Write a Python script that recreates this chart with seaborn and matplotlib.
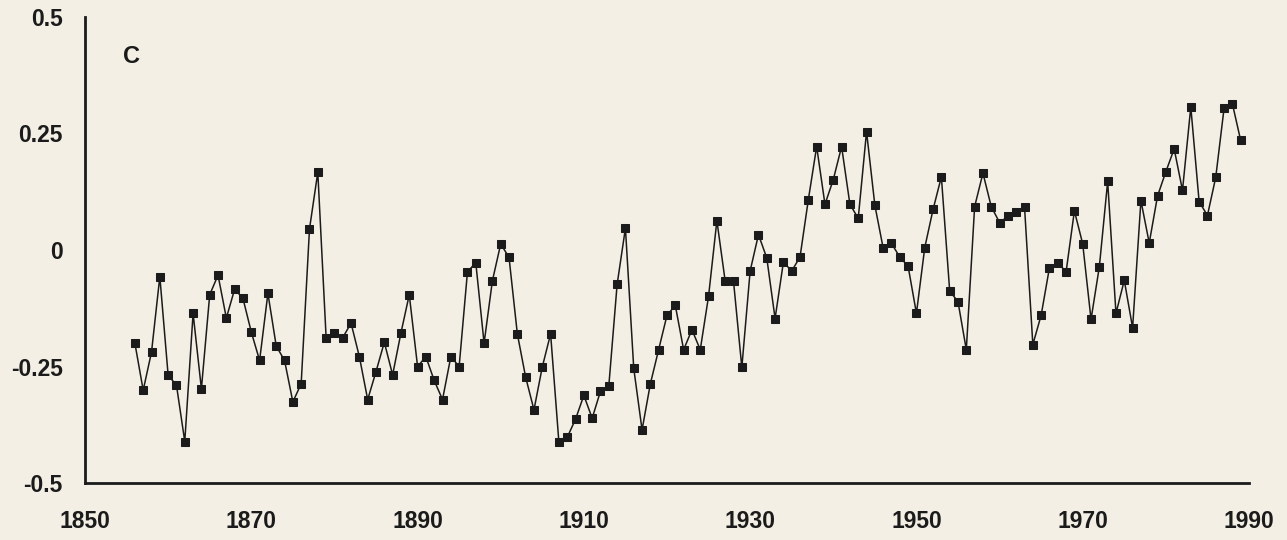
import numpy as np
import pandas as pd
import matplotlib
matplotlib.use("Agg")
import matplotlib.pyplot as plt
import seaborn as sns

# --- Data: global temperature anomaly (deg C) ---
FIRST_YEAR = 1856
LAST_YEAR = 1989
anomaly = [
    -0.200, -0.301, -0.219, -0.057, -0.269, -0.290, -0.411, -0.136, -0.298, -0.096,   # 1856-1865
    -0.054, -0.146, -0.084, -0.104, -0.176, -0.237, -0.093, -0.206, -0.237, -0.326,   # 1866-1875
    -0.287, 0.045, 0.167, -0.188, -0.178, -0.188, -0.157, -0.229, -0.321, -0.261,     # 1876-1885
    -0.198, -0.268, -0.178, -0.096, -0.250, -0.229, -0.280, -0.321, -0.229, -0.250,   # 1886-1895
    -0.047, -0.027, -0.200, -0.066, 0.013, -0.016, -0.180, -0.273, -0.343, -0.251,    # 1896-1905
    -0.180, -0.413, -0.402, -0.363, -0.312, -0.361, -0.303, -0.292, -0.074, 0.047,    # 1906-1915
    -0.254, -0.386, -0.287, -0.214, -0.140, -0.119, -0.214, -0.171, -0.214, -0.099,   # 1916-1925
    0.063, -0.067, -0.067, -0.252, -0.045, 0.033, -0.017, -0.147, -0.026, -0.045,     # 1926-1935
    -0.015, 0.108, 0.222, 0.098, 0.151, 0.222, 0.098, 0.068, 0.254, 0.096,            # 1936-1945
    0.004, 0.014, -0.015, -0.035, -0.136, 0.005, 0.087, 0.157, -0.088, -0.111,        # 1946-1955
    -0.214, 0.093, 0.165, 0.093, 0.059, 0.072, 0.082, 0.093, -0.203, -0.140,          # 1956-1965
    -0.038, -0.027, -0.047, 0.084, 0.013, -0.149, -0.036, 0.147, -0.136, -0.065,      # 1966-1975
    -0.167, 0.106, 0.015, 0.116, 0.168, 0.217, 0.128, 0.307, 0.104, 0.074,            # 1976-1985
    0.156, 0.304, 0.314, 0.235,                                                       # 1986-1989
]
years = list(range(FIRST_YEAR, LAST_YEAR + 1))

x_ticks = [1850, 1870, 1890, 1910, 1930, 1950, 1970, 1990]
y_ticks = [-0.5, -0.25, 0, 0.25, 0.5]
y_tick_labels = ["-0.5", "-0.25", "0", "0.25", "0.5"]
panel_label = "C"

df = pd.DataFrame({"year": years, "anomaly": anomaly})

# --- Style ---
PAPER = "#f3efe5"
INK = "#1b1b1b"
sns.set_theme(style="white")
plt.rcParams["font.family"] = ["Liberation Sans", "DejaVu Sans"]

W, H = 1287, 540
fig = plt.figure(figsize=(W / 100, H / 100), dpi=100, facecolor=PAPER)
ax = fig.add_axes([85 / W, 1 - 483 / H, (1249 - 85) / W, (483 - 17) / H])
ax.set_facecolor("none")

sns.lineplot(data=df, x="year", y="anomaly", ax=ax, color=INK, linewidth=1.1,
             marker="s", markersize=5.5, markeredgecolor=INK, markerfacecolor=INK)

ax.set_xlim(1850, 1990)
ax.set_ylim(-0.5, 0.5)
ax.set_xticks(x_ticks)
ax.set_xticklabels([str(t) for t in x_ticks])
ax.set_yticks(y_ticks)
ax.set_yticklabels(y_tick_labels)
ax.set_xlabel("")
ax.set_ylabel("")

for side in ["top", "right"]:
    ax.spines[side].set_visible(False)
for side in ["left", "bottom"]:
    ax.spines[side].set_color(INK)
    ax.spines[side].set_linewidth(2.0)

ax.tick_params(axis="y", direction="in", length=6, width=1.6, color=INK, pad=16,
               labelsize=16.5, labelcolor=INK)
ax.tick_params(axis="x", direction="inout", length=11, width=1.8, color=INK, pad=14,
               labelsize=16.5, labelcolor=INK)
for lab in ax.get_xticklabels() + ax.get_yticklabels():
    lab.set_fontweight("bold")

# panel letter in the upper left corner
ax.text(0.033, 0.915, panel_label, transform=ax.transAxes, fontsize=17,
        fontweight="bold", color=INK, ha="left", va="center")

fig.savefig("out.png", dpi=100, facecolor=PAPER)
